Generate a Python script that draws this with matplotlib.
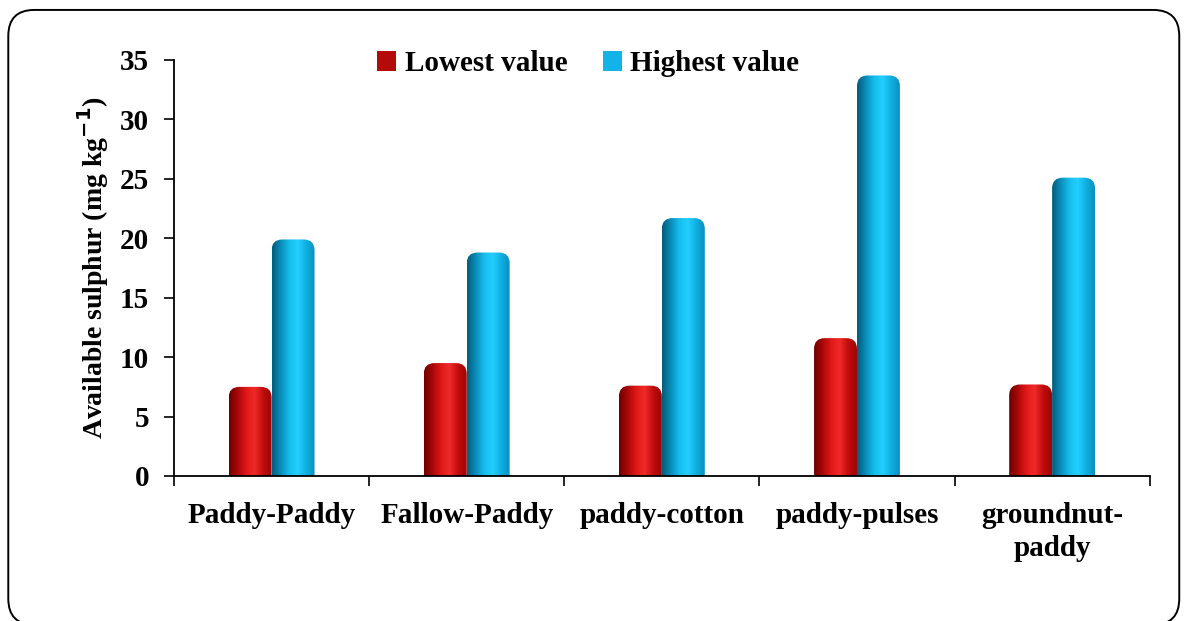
import numpy as np
import matplotlib
matplotlib.use("Agg")
import matplotlib.pyplot as plt
from matplotlib.patches import FancyBboxPatch, Rectangle
from matplotlib.colors import LinearSegmentedColormap

# data
categories = ["Paddy-Paddy", "Fallow-Paddy", "paddy-cotton", "paddy-pulses", "groundnut-\npaddy"]
lowest = [7.5, 9.5, 7.6, 11.6, 7.7]
highest = [19.9, 18.8, 21.7, 33.7, 25.1]
series_names = ["Lowest value", "Highest value"]
yticks = [0, 5, 10, 15, 20, 25, 30, 35]

plt.rcParams["font.family"] = ["Liberation Serif", "DejaVu Serif"]
plt.rcParams["font.weight"] = "bold"

red_cmap = LinearSegmentedColormap.from_list(
    "red_cyl", ["#6e0000", "#a80808", "#e01818", "#f02a2a", "#c00c0c", "#9a0505"])
blue_cmap = LinearSegmentedColormap.from_list(
    "blue_cyl", ["#045b7a", "#0a8cb8", "#16bdeb", "#22cfff", "#10afe0", "#0a90c0"])

fig = plt.figure(figsize=(11.84, 6.21), dpi=100)
ax = fig.add_axes([0.147, 0.2335, 0.824, 0.6699])

x = np.arange(len(categories))
w = 0.22
b1 = ax.bar(x - w / 2, lowest, w, color="#c00c0c", linewidth=0)
b2 = ax.bar(x + w / 2, highest, w, color="#10afe0", linewidth=0)

ax.set_xlim(-0.5, len(categories) - 0.5)
ax.set_ylim(0, 35)

# cylinder look: gradient clipped to a bar shape with rounded top
fig.canvas.draw()
bbox = ax.get_window_extent()
px_x = (ax.get_xlim()[1] - ax.get_xlim()[0]) / bbox.width
px_y = (ax.get_ylim()[1] - ax.get_ylim()[0]) / bbox.height
aspect = px_y / px_x
grad = np.linspace(0, 1, 256).reshape(1, -1)
for bars, cmap in ((b1, red_cmap), (b2, blue_cmap)):
    for r in bars:
        r.set_visible(False)
        x0, bw, h = r.get_x(), r.get_width(), r.get_height()
        rad = bw * 0.25
        shape = FancyBboxPatch((x0, -2), bw, h + 2,
                               boxstyle=f"round,pad=0,rounding_size={rad}",
                               mutation_aspect=aspect, linewidth=0,
                               facecolor="none", transform=ax.transData)
        ax.add_patch(shape)
        im = ax.imshow(grad, cmap=cmap, aspect="auto", extent=(x0, x0 + bw, 0, h),
                       interpolation="bicubic", zorder=2)
        im.set_clip_path(shape)

ax.set_xlim(-0.5, len(categories) - 0.5)
ax.set_ylim(0, 35)

for s in ("top", "right"):
    ax.spines[s].set_visible(False)
for s in ("left", "bottom"):
    ax.spines[s].set_linewidth(1.3)
    ax.spines[s].set_zorder(5)

ax.set_yticks(yticks)
ax.tick_params(axis="y", direction="out", length=7, width=1.2, labelsize=21, pad=11)
ax.set_xticks(np.arange(len(categories) + 1) - 0.5)
ax.set_xticklabels([])
ax.tick_params(axis="x", which="major", direction="out", length=7, width=1.2)
ax.set_xticks(x, minor=True)
ax.set_xticklabels(categories, minor=True, fontsize=21, fontweight="bold",
                   linespacing=1.25)
ax.tick_params(axis="x", which="minor", length=0, pad=19)
for lab in ax.get_yticklabels():
    lab.set_fontweight("bold")

ax.set_ylabel("Available sulphur (mg kg$^{\\mathbf{-1}}$)", fontsize=20,
              fontweight="bold", labelpad=6)

handles = [Rectangle((0, 0), 1, 1, facecolor="#b50a0a"),
           Rectangle((0, 0), 1, 1, facecolor="#12b3e6")]
fig.legend(handles, series_names, loc="center", bbox_to_anchor=(0.497, 0.897),
           ncol=2, frameon=False, handlelength=0.65, handleheight=0.65,
           handletextpad=0.3, columnspacing=1.2, prop={"weight": "bold", "size": 21})

border = FancyBboxPatch((0.007, -0.006), 0.989, 0.99,
                        boxstyle="round,pad=0,rounding_size=0.022",
                        transform=fig.transFigure, facecolor="none",
                        edgecolor="black", linewidth=1.4, mutation_aspect=1184 / 621)
fig.patches.append(border)

fig.savefig("out.png", dpi=100)
